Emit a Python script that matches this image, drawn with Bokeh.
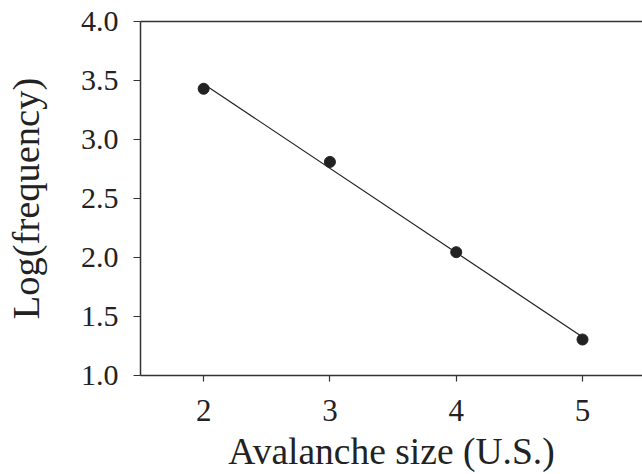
from bokeh.plotting import figure
from bokeh.models import FixedTicker, NumeralTickFormatter, LinearAxis, Range1d
from bokeh.embed import file_html
from bokeh.resources import INLINE

# data
avalanche_size = [2, 3, 4, 5]
log_frequency = [3.43, 2.81, 2.045, 1.305]
fit_x = [2, 5]
fit_y = [3.47, 1.327]
x_ticks = [2, 3, 4, 5]
y_ticks = [1.0, 1.5, 2.0, 2.5, 3.0, 3.5, 4.0]
x_title = "Avalanche size (U.S.)"
y_title = "Log(frequency)"

FONT = "Liberation Serif"
INK = "#222222"

p = figure(width=642, height=474, output_backend="svg", toolbar_location=None,
           x_range=Range1d(1.5, 5.475), y_range=Range1d(1.0, 4.0),
           min_border_left=140, min_border_right=0, min_border_top=21,
           min_border_bottom=99)
p.outline_line_color = None
p.grid.visible = False
p.background_fill_color = "white"
p.border_fill_color = "white"

p.line(fit_x, fit_y, line_color=INK, line_width=1.2)
p.scatter(avalanche_size, log_frequency, size=11, color=INK)

for ax in (p.xaxis[0], p.yaxis[0]):
    ax.axis_line_color = "#333333"
    ax.axis_line_width = 1.5
    ax.major_tick_line_color = "#333333"
    ax.major_tick_line_width = 1.2
    ax.major_tick_in = 0
    ax.minor_tick_line_color = None
    ax.major_label_text_font = FONT
    ax.major_label_text_color = INK
    ax.axis_label_text_font = FONT
    ax.axis_label_text_font_style = "normal"
    ax.axis_label_text_color = INK

p.xaxis[0].ticker = FixedTicker(ticks=x_ticks)
p.xaxis[0].major_tick_out = 6
p.xaxis[0].major_label_standoff = 18
p.xaxis[0].major_label_text_font_size = "31px"
p.xaxis[0].axis_label = x_title
p.xaxis[0].axis_label_text_font_size = "37.5px"
p.xaxis[0].axis_label_standoff = 7

p.yaxis[0].ticker = FixedTicker(ticks=y_ticks)
p.yaxis[0].formatter = NumeralTickFormatter(format="0.0")
p.yaxis[0].major_tick_out = 7
p.yaxis[0].major_label_standoff = 15
p.yaxis[0].major_label_text_font_size = "30px"
p.yaxis[0].axis_label = y_title
p.yaxis[0].axis_label_text_font_size = "38.5px"
p.yaxis[0].axis_label_standoff = 31

top = LinearAxis(ticker=FixedTicker(ticks=[]))
top.axis_line_color = "#333333"
top.axis_line_width = 1.5
top.major_tick_line_color = None
top.minor_tick_line_color = None
top.major_label_text_color = None
p.add_layout(top, "above")

open("out.html", "w").write(file_html(p, INLINE))
